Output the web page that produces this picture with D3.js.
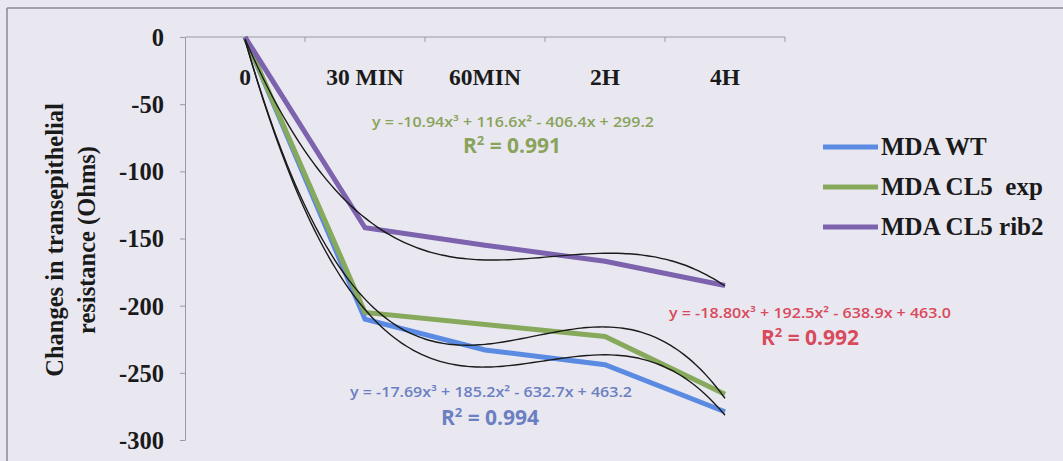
<!DOCTYPE html>
<html>
<head>
<meta charset="utf-8">
<script src="https://cdn.jsdelivr.net/npm/d3@7/dist/d3.min.js"></script>
<style>
  html, body { margin: 0; padding: 0; background: #e9e8f1; }
  svg { display: block; }
</style>
</head>
<body>
<svg id="chart" width="1063" height="461"></svg>
<script>
// Time points and measured change in resistance (Ohms)
const categories = ["0", "30 MIN", "60MIN", "2H", "4H"];
const wt      = [0, -210, -233, -244, -279];
const cl5Exp  = [0, -205, -214, -223, -266];
const cl5Rib2 = [0, -142, -155, -167, -185];
const yTicks  = [0, -50, -100, -150, -200, -250, -300];

// Cubic trendline coefficients [a, b, c, d] for y = a x^3 + b x^2 + c x + d, x = 1..5
const rib2Fit = [-10.94, 116.6, -406.4, 299.2];
const expFit  = [-18.80, 192.5, -638.9, 463.0];
const wtFit   = [-17.69, 185.2, -632.7, 463.2];

const seriesNames = ["MDA WT", "MDA CL5  exp", "MDA CL5 rib2"];
const seriesColors = ["#5a8ae2", "#87a95c", "#7d62ad"];

const serif = "'Liberation Serif', 'Times New Roman', serif";
const sans = "'Open Sans', 'Noto Sans', sans-serif";

const svg = d3.select("#chart");

// frame lines
svg.append("line").attr("x1", 7).attr("x2", 1063).attr("y1", 8).attr("y2", 8)
  .attr("stroke", "#8a8a92").attr("stroke-width", 1.5);
svg.append("line").attr("x1", 7).attr("x2", 7).attr("y1", 8).attr("y2", 461)
  .attr("stroke", "#8a8a92").attr("stroke-width", 1.5);

const x = d3.scaleBand().domain(categories).range([185, 785]);
const y = d3.scaleLinear().domain([-300, 0]).range([440, 37]);
const xc = c => x(c) + x.bandwidth() / 2;

// y axis
const yAxis = d3.axisLeft(y).tickValues(yTicks).tickSize(5).tickSizeOuter(0);
const gy = svg.append("g").attr("transform", "translate(185,0)").call(yAxis);
gy.select(".domain").attr("stroke", "#9a9aa2").attr("stroke-width", 1);
gy.selectAll(".tick line").attr("stroke", "#9a9aa2");
gy.selectAll(".tick text")
  .attr("x", -21).attr("dy", "0.34em")
  .attr("font-family", serif)
  .attr("font-weight", "bold").attr("font-size", 24.5).attr("fill", "#1a1a1a")
  .text(d => String(d));

// x axis along value 0 with ticks between categories
const gx = svg.append("g").attr("transform", `translate(0,${y(0)})`);
gx.append("line").attr("x1", 185).attr("x2", 785).attr("y1", 0).attr("y2", 0)
  .attr("stroke", "#9a9aa2").attr("stroke-width", 1);
const boundaries = categories.map(c => x(c) + x.bandwidth());
gx.selectAll(".btick").data(boundaries).enter().append("line")
  .attr("x1", d => d).attr("x2", d => d).attr("y1", 0).attr("y2", 5)
  .attr("stroke", "#9a9aa2");
gx.selectAll(".clabel").data(categories).enter().append("text")
  .attr("x", d => xc(d)).attr("y", 48)
  .attr("text-anchor", "middle")
  .attr("font-family", serif)
  .attr("font-weight", "bold").attr("font-size", 23.5).attr("fill", "#1a1a1a")
  .text(d => d);

// y axis title
const title = svg.append("text")
  .attr("transform", "translate(71,240) rotate(-90)")
  .attr("text-anchor", "middle")
  .attr("font-family", serif)
  .attr("font-weight", "bold").attr("font-size", 24.5).attr("fill", "#1a1a1a");
title.append("tspan").attr("x", 0).attr("dy", -8).text("Changes in transepithelial");
title.append("tspan").attr("x", 0).attr("dy", 32).text("resistance (Ohms)");

// data lines
const line = d3.line().x((d, i) => xc(categories[i])).y(d => y(d));
[wt, cl5Exp, cl5Rib2].forEach((vals, i) => {
  svg.append("path").datum(vals)
    .attr("d", line)
    .attr("fill", "none")
    .attr("stroke", seriesColors[i])
    .attr("stroke-width", 5)
    .attr("stroke-linejoin", "miter");
});

// trendlines (cubic polynomial fits)
const xPos = d3.scaleLinear().domain([1, 5]).range([xc(categories[0]), xc(categories[4])]);
const cubic = (k, t) => k[0] * t * t * t + k[1] * t * t + k[2] * t + k[3];
[rib2Fit, expFit, wtFit].forEach(k => {
  const ts = d3.range(1, 5.001, 0.05);
  svg.append("path")
    .attr("d", d3.line().x(t => xPos(t)).y(t => y(cubic(k, t))).curve(d3.curveBasis)(ts))
    .attr("fill", "none").attr("stroke", "#1a1a1a").attr("stroke-width", 1.4);
});

// equation labels
const fmtEq = k => {
  const s = (v, p) => Math.abs(v).toFixed(p);
  const sign = v => v < 0 ? " - " : " + ";
  return `y = ${k[0] < 0 ? "-" : ""}${s(k[0], 2)}x³${sign(k[1])}${s(k[1], 1)}x²${sign(k[2])}${s(k[2], 1)}x${sign(k[3])}${s(k[3], 1)}`;
};
const labels = [
  { k: rib2Fit, r2: "0.991", color: "#8aa35a", ex: 513, ey: 127, rx: 512, ry: 153 },
  { k: expFit,  r2: "0.992", color: "#d94a5c", ex: 810, ey: 318, rx: 810, ry: 345 },
  { k: wtFit,   r2: "0.994", color: "#6b7fc2", ex: 491, ey: 397, rx: 490, ry: 425 }
];
labels.forEach(l => {
  svg.append("text").attr("x", l.ex).attr("y", l.ey).attr("text-anchor", "middle")
    .attr("font-family", sans).attr("font-weight", 600).attr("font-size", 14.5)
    .attr("textLength", 282).attr("lengthAdjust", "spacingAndGlyphs")
    .attr("fill", l.color).text(fmtEq(l.k));
  const r = svg.append("text").attr("x", l.rx).attr("y", l.ry).attr("text-anchor", "middle")
    .attr("font-family", sans).attr("font-weight", 700).attr("font-size", 21)
    .attr("fill", l.color);
  r.append("tspan").text("R");
  r.append("tspan").attr("font-size", 13).attr("dy", -8).text("2");
  r.append("tspan").attr("dy", 8).text(" = " + l.r2);
});

// legend
const legend = svg.append("g");
seriesNames.forEach((name, i) => {
  const ly = 147 + i * 40;
  legend.append("line").attr("x1", 823).attr("x2", 878).attr("y1", ly).attr("y2", ly)
    .attr("stroke", seriesColors[i]).attr("stroke-width", 5);
  legend.append("text").attr("x", 881).attr("y", ly + 8)
    .attr("font-family", serif)
    .attr("font-weight", "bold").attr("font-size", 25).attr("fill", "#1a1a1a")
    .style("white-space", "pre")
    .text(name);
});
</script>
</body>
</html>
